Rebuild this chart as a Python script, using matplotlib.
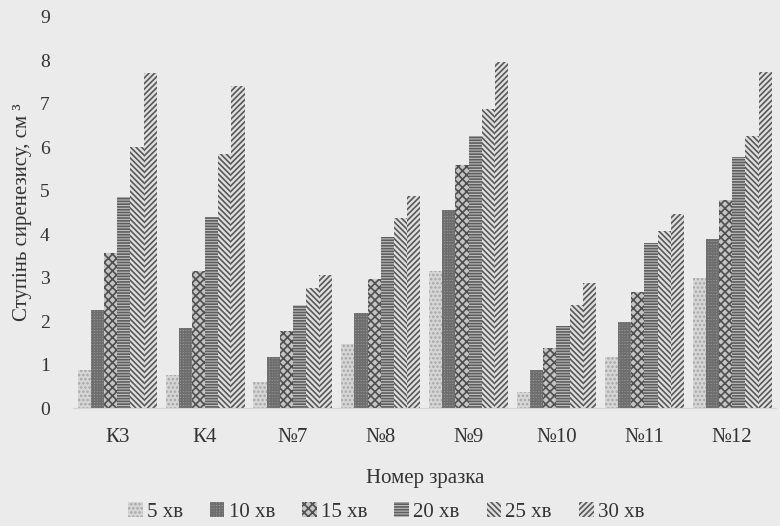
import numpy as np
from matplotlib import pyplot as plt

samples = ["К3", "К4", "№7", "№8", "№9", "№10", "№11", "№12"]
series = ["5 хв", "10 хв", "15 хв", "20 хв", "25 хв", "30 хв"]

min5 = [0.87, 0.76, 0.60, 1.47, 3.15, 0.37, 1.17, 2.99]
min10 = [2.25, 1.84, 1.17, 2.18, 4.56, 0.87, 1.98, 3.90]
min15 = [3.56, 3.15, 1.77, 2.97, 5.59, 1.38, 2.67, 4.78]
min20 = [4.85, 4.40, 2.37, 3.93, 6.25, 1.89, 3.79, 5.77]
min25 = [6.00, 5.84, 2.76, 4.38, 6.87, 2.37, 4.07, 6.25]
min30 = [7.70, 7.40, 3.06, 4.87, 7.95, 2.87, 4.46, 7.72]
values = [min5, min10, min15, min20, min25, min30]

bg = "#ebebeb"
faces = ["#d6d6d6", "#9c9c9c", "#c4c4c4", "#bdbdbd", "#e0e0e0", "#e0e0e0"]
hatches = ["....", "++++++", "xxxx", "------", "\\\\\\\\\\\\", "//////"]
hatch_cols = ["#a6a6a6", "#6e6e6e", "#4f4f4f", "#5e5e5e", "#585858", "#585858"]

plt.rcParams["font.family"] = ["Liberation Serif", "DejaVu Serif"]
plt.rcParams["hatch.linewidth"] = 1.2

fig = plt.figure(figsize=(7.8, 5.26), dpi=100, facecolor=bg)
ax = fig.add_axes([0.094, 0.224, 0.901, 0.744], facecolor=bg)

ind = np.arange(len(samples))
width = 0.15
bars = []
for j, vals in enumerate(values):
    b = ax.bar(ind + (j - 2.5) * width, vals, width=width,
               color=faces[j], edgecolor=hatch_cols[j], linewidth=0,
               hatch=hatches[j], label=series[j])
    bars.append(b)

ax.set_xlim(-0.5, len(samples) - 0.5)
ax.set_ylim(0, 9)
ax.set_yticks(range(10))
ax.set_xticks(ind, samples)
for s in ["top", "right", "left"]:
    ax.spines[s].set_visible(False)
ax.spines["bottom"].set_color("#d4d4d4")
ax.tick_params(axis="both", length=0, colors="#333333")
ax.tick_params(axis="y", labelsize=14, pad=17)
ax.tick_params(axis="x", labelsize=15, pad=14)

ax.set_ylabel("Ступінь сиренезису, см ³", fontsize=15, color="#333333", labelpad=6)
fig.text(0.545, 0.091, "Номер зразка", fontsize=15, color="#333333",
         ha="center", va="center")

fig.legend(handles=bars, labels=series, loc="center", bbox_to_anchor=(0.495, 0.027),
           ncol=6, frameon=False, fontsize=15, handlelength=0.7, handleheight=0.7,
           handletextpad=0.2, columnspacing=1.3, labelcolor="#333333")

fig.savefig("out.png", dpi=100, facecolor=bg)
